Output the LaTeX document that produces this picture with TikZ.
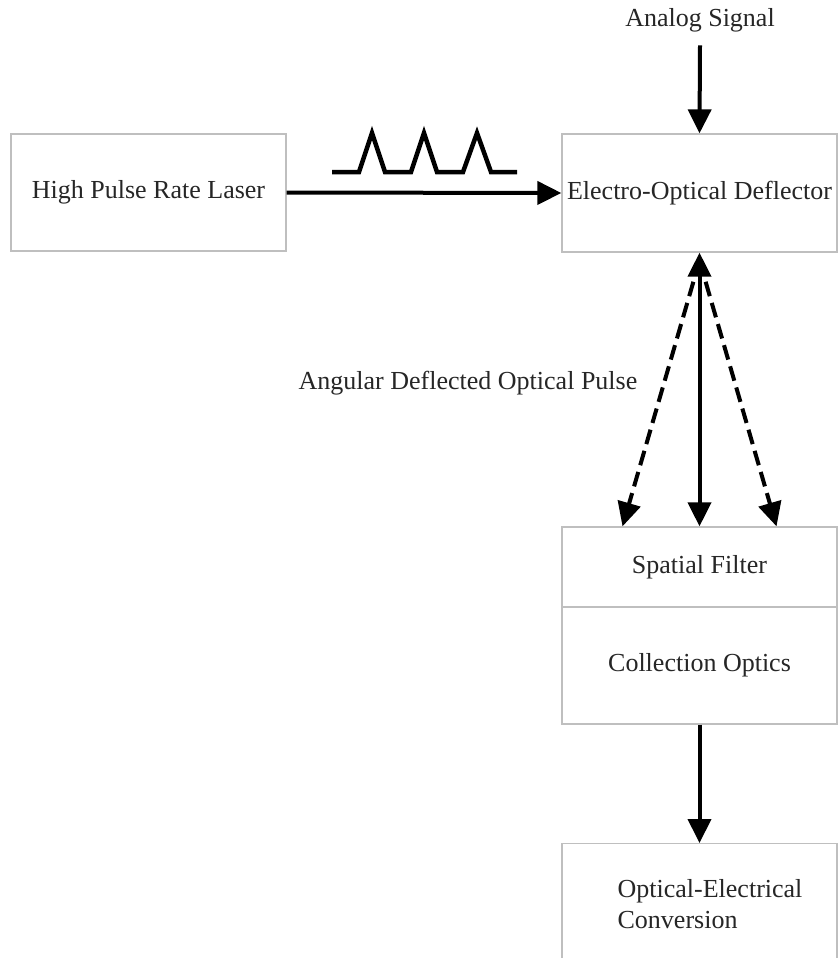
\documentclass[tikz,border=0pt]{standalone}
\usepackage{fontspec}
\setmainfont{Liberation Serif}
\usetikzlibrary{arrows.meta}
\begin{document}
\begin{tikzpicture}[x=1pt,y=-1pt,
  every node/.style={font=\fontsize{26}{31}\selectfont, text=black!85},
  block/.style={draw=black!25, line width=1.3pt, minimum width=275pt, inner sep=0pt},
  tip/.style={Triangle[length=24pt,width=23pt]},
  flow/.style={line width=4pt, -{Triangle[length=24pt,width=23pt]}},
  beam/.style={flow, dash pattern=on 15pt off 7pt}]
  \useasboundingbox[fill=white] (0,0) rectangle (840,958);

  % blocks
  \node[block, minimum height=117pt] (laser) at (148.5,192.5) {High Pulse Rate Laser};
  \node[block, minimum height=118pt] (eod) at (699.5,193) {Electro-Optical Deflector};
  \node[block, minimum height=80pt] (sf) at (699.5,567) {Spatial Filter};
  \node[block, minimum height=117pt] (co) at (699.5,665.5) {Collection Optics};
  \node[block, minimum height=150pt, anchor=north] (oe) at (699.5,843) {};
  \node[align=left] (oetext) at (710,904) {Optical-Electrical\\Conversion};

  % labels
  \node (analog) at (700,20) {Analog Signal};
  \node (angular) at (468,383) {Angular Deflected Optical Pulse};

  % pulse train above the laser beam
  \draw[line width=4.5pt, line join=miter] (332,172) -- (359,172) -- (372,133) -- (385,172)
    -- (411,172) -- (424,133) -- (437,172) -- (463,172) -- (477,133) -- (491,172) -- (517,172);

  % connectors
  \draw[flow] (analog.south) ++(0,10) coordinate (asig) -- (eod.north);
  \draw[flow] (laser.east) -- (eod.west);

  % deflected beams
  \coordinate (apex) at (eod.south);
  \coordinate (fl) at ([xshift=-77pt]sf.north);
  \coordinate (fr) at ([xshift=77pt]sf.north);
  \draw[beam] ([yshift=-8pt]apex) -- (fl);
  \draw[beam] ([yshift=-8pt]apex) -- (fr);
  \draw[line width=4pt, {Triangle[length=24pt,width=23pt]}-{Triangle[length=24pt,width=23pt]}] (apex) -- (sf.north);

  \draw[flow] (co.south) -- (oe.north);
\end{tikzpicture}
\end{document}
